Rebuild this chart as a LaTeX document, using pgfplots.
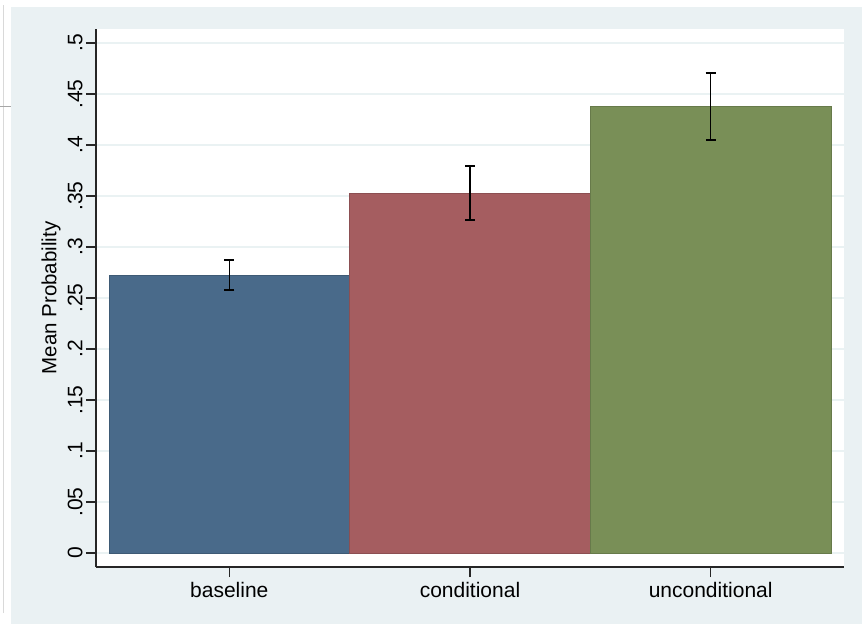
\documentclass[border=0pt]{standalone}
\usepackage{pgfplots}
\pgfplotsset{compat=1.18}
\usepackage{fontspec}
\setmainfont{Liberation Sans}
\definecolor{bgc}{RGB}{234,241,243}
\definecolor{gridc}{RGB}{234,242,243}
\definecolor{c1}{RGB}{73,106,138}
\definecolor{c2}{RGB}{165,93,96}
\definecolor{c3}{RGB}{121,143,87}
\begin{document}
\begin{tikzpicture}[x=1pt,y=1pt]
\path[use as bounding box,fill=white] (0,0) rectangle (862,625);
\fill[bgc] (11,1) rectangle (862,618);
\draw[gray!30,line width=0.8] (3.5,12) -- (3.5,620);
\draw[gray!70,line width=0.8] (0,519) -- (11,519);
\begin{axis}[
  at={(96pt,58pt)}, anchor=south west,
  scale only axis, width=748pt, height=538pt,
  xmin=0.446, xmax=3.554, ymin=-0.0137, ymax=0.5137,
  axis background/.style={fill=white},
  axis x line*=bottom, axis y line*=left,
  axis line style={line width=1.1pt, black!85},
  xtick={1,2,3}, xticklabels={baseline,conditional,unconditional},
  ytick={0,0.05,...,0.5},
  yticklabels={0,.05,.1,.15,.2,.25,.3,.35,.4,.45,.5},
  yticklabel style={rotate=90, anchor=south, font=\fontsize{21}{25}\selectfont, xshift=0pt},
  xticklabel style={font=\fontsize{21}{25}\selectfont},
  ymajorgrids, grid style={gridc, line width=1.6pt},
  tick align=outside, major tick length=10pt,
  tick style={line width=1.1pt, black!85},
  x tick label style={yshift=-2pt},
  ylabel={Mean Probability},
  ylabel style={font=\fontsize{20.5}{24}\selectfont, yshift=0pt},
  ybar, bar width=1, bar shift=0,
  clip=false,
  error bars/y dir=both, error bars/y explicit,
  error bars/error bar style={line width=1.6pt, black},
  error bars/error mark options={rotate=90, mark size=5pt, line width=2pt, black},
]
\addplot[fill=c1, draw=c1!85!black] coordinates {(1,0.2728) +- (0,0.0147)};
\addplot[fill=c2, draw=c2!85!black] coordinates {(2,0.3532) +- (0,0.0265)};
\addplot[fill=c3, draw=c3!85!black] coordinates {(3,0.4379) +- (0,0.0327)};
\end{axis}
\end{tikzpicture}
\end{document}
